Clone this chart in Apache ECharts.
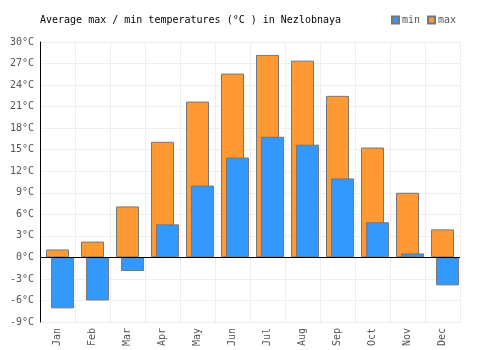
<!DOCTYPE html>
<html>
<head>
<meta charset="utf-8">
<script src="https://cdn.jsdelivr.net/npm/echarts@6/dist/echarts.min.js"></script>
<style>html,body{margin:0;padding:0;background:#fff}#c{width:500px;height:350px}</style>
</head>
<body>
<div id="c"></div>
<script>
var categories = ['Jan','Feb','Mar','Apr','May','Jun','Jul','Aug','Sep','Oct','Nov','Dec'];
var minTemps = [-7.1, -6.0, -1.9, 4.6, 10.0, 13.9, 16.8, 15.7, 11.0, 4.9, 0.55, -3.9];
var maxTemps = [1.1, 2.2, 7.1, 16.1, 21.7, 25.6, 28.2, 27.4, 22.5, 15.3, 9.0, 3.9];
var yMin = -9, yMax = 30, yStep = 3;
var titleText = 'Average max / min temperatures (°C ) in Nezlobnaya';

var FONT = '"DejaVu Sans Mono", monospace';
var chart = echarts.init(document.getElementById('c'), null, {renderer: 'canvas'});
var border = {borderColor: '#777', borderWidth: 1};
chart.setOption({
  animation: false,
  backgroundColor: '#fff',
  title: {
    text: titleText, left: 34, top: 15, padding: [0, 6],
    textStyle: {fontFamily: FONT, fontSize: 10, fontWeight: 'normal', color: '#000'}
  },
  legend: {
    data: ['min', 'max'], left: 387, top: 15, padding: [0, 4],
    itemWidth: 7, itemHeight: 7, itemGap: 7, icon: 'rect',
    textStyle: {fontFamily: FONT, fontSize: 10, color: '#555', padding: [0, 0, 0, -2]}
  },
  grid: {left: 40, right: 40, top: 42, bottom: 28, containLabel: false},
  xAxis: {
    type: 'category', data: categories, boundaryGap: true,
    axisLine: {show: false}, axisTick: {show: false},
    splitLine: {show: true, lineStyle: {color: '#eee', width: 1}},
    axisLabel: {rotate: 90, margin: 6, fontFamily: FONT, fontSize: 10, color: '#555', interval: 0}
  },
  yAxis: {
    type: 'value', min: yMin, max: yMax, interval: yStep,
    axisLine: {show: true, lineStyle: {color: '#000', width: 1}},
    axisTick: {show: false},
    splitLine: {show: true, lineStyle: {color: '#eee', width: 1}},
    axisLabel: {margin: 6, fontFamily: FONT, fontSize: 10, color: '#555', formatter: '{value}°C'}
  },
  series: [
    {name: 'pad', type: 'bar', data: [], barWidth: 23, barGap: '-78%', silent: true},
    {name: 'max', type: 'bar', data: maxTemps, barWidth: 23, barGap: '-78%',
     itemStyle: Object.assign({color: '#ff9933'}, border)},
    {name: 'min', type: 'bar', data: minTemps, barWidth: 23, barGap: '-78%',
     itemStyle: Object.assign({color: '#3399ff'}, border),
     markLine: {silent: true, symbol: ['none', 'none'], label: {show: false},
       lineStyle: {color: '#000', width: 1, type: 'solid'}, data: [{yAxis: 0}]}}
  ]
});
</script>
</body>
</html>
